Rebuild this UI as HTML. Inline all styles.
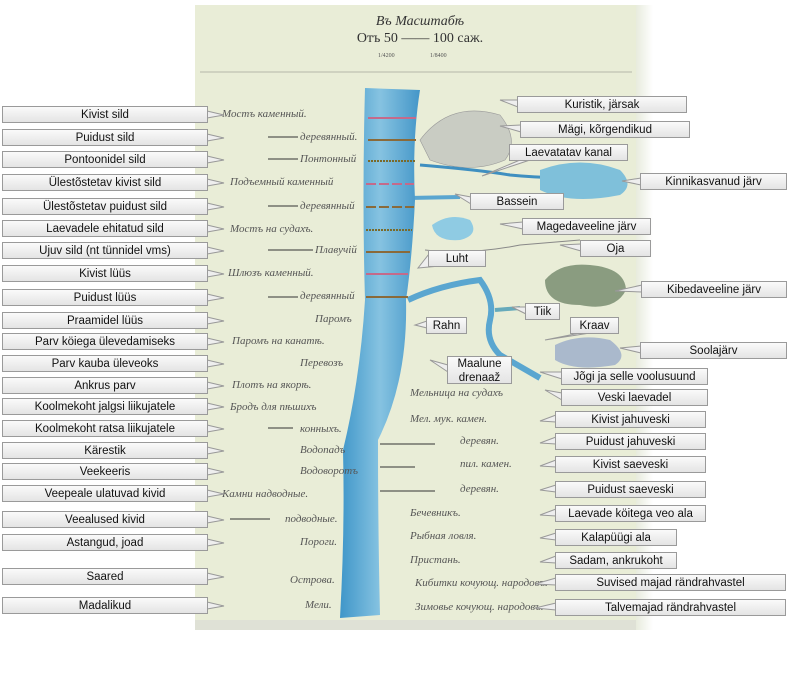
<!DOCTYPE html>
<html><head><meta charset="utf-8"><style>
body{margin:0;width:811px;height:681px;background:#fff;position:relative;overflow:hidden;font-family:"Liberation Sans",sans-serif}
.b{position:absolute;height:17px;line-height:17px;font-size:11.5px;text-align:center;color:#111;background:linear-gradient(#fafafa,#e4e4e4);border:1px solid #9a9a9a;box-sizing:border-box;white-space:nowrap}
svg{position:absolute;left:0;top:0}
.r{font-family:"Liberation Serif",serif;font-style:italic;fill:#555;font-size:11px}
</style></head><body>
<svg width="811" height="681">
<defs><linearGradient id="sh" x1="0" x2="1"><stop offset="0" stop-color="#e6eadb"/><stop offset="1" stop-color="#fff"/></linearGradient>
<linearGradient id="rv" x1="0" x2="1"><stop offset="0" stop-color="#3f96c9"/><stop offset=".5" stop-color="#86c3e1"/><stop offset="1" stop-color="#4496c8"/></linearGradient></defs>
<rect x="635" y="5" width="18" height="625" fill="url(#sh)"/>
<rect x="195" y="5" width="441" height="620" fill="#e9edd7"/>
<rect x="195" y="620" width="441" height="10" fill="#dfe1d6"/>
<line x1="200" y1="72" x2="632" y2="72" stroke="#b5b8a8"/>
<text x="420" y="25" text-anchor="middle" font-family="Liberation Serif" font-style="italic" font-size="14" fill="#333">Въ Масштабѣ</text>
<text x="420" y="42" text-anchor="middle" font-family="Liberation Serif" font-size="14" fill="#333">Отъ 50 —— 100 саж.</text>
<text x="378" y="57" font-size="6" fill="#555" font-family="Liberation Serif">1/4200</text><text x="430" y="57" font-size="6" fill="#555" font-family="Liberation Serif">1/8400</text>
<path d="M420 140 Q450 100 500 115 Q520 140 505 160 Q470 175 430 160Z" fill="#c9ccc3" stroke="#999" stroke-width=".6"/>
<path d="M420 165 Q480 170 510 175 Q560 180 600 175" stroke="#3f8fc0" stroke-width="3" fill="none"/>
<path d="M540 170 Q580 155 620 170 Q635 185 620 195 Q570 205 540 190Z" fill="#7fc0da"/>
<path d="M408 198 L460 197" stroke="#5aa6d0" stroke-width="4"/>
<path d="M432 225 Q450 212 470 220 Q480 235 460 240 Q435 242 432 225Z" fill="#8fcbe3"/>
<path d="M545 280 Q560 262 590 265 Q625 268 626 290 Q615 312 580 305 Q545 305 545 280Z" fill="#8a9c80"/>
<path d="M555 345 Q580 333 610 340 Q630 355 615 365 Q575 372 555 360Z" fill="#aab9cc"/>
<path d="M408 300 Q440 285 480 280 Q495 300 490 320 Q485 340 500 355 L540 378" stroke="#5aa6d0" stroke-width="6" fill="none"/>
<path d="M425 250 Q470 255 520 245 L580 240" stroke="#888" fill="none"/>
<path d="M495 310 L520 308" stroke="#6ab" stroke-width="4"/>
<path d="M365 88 L420 90 Q412 140 415 200 Q412 260 406 300 Q408 380 378 440 Q378 530 380 615 L340 618 Q345 530 343 450 Q360 380 365 300 Q362 200 365 88Z" fill="url(#rv)"/>
<g stroke-width="2" fill="none">
<path d="M368 118h48" stroke="#c56a8a"/><path d="M368 140h48" stroke="#8a6a3a"/><path d="M368 161h48" stroke="#7a6a2a" stroke-dasharray="2 1"/>
<path d="M366 184h48" stroke="#c56a8a" stroke-dasharray="10 3"/><path d="M366 207h48" stroke="#8a6a3a" stroke-dasharray="10 3"/>
<path d="M366 230h46" stroke="#7a6a2a" stroke-dasharray="2 1"/><path d="M366 252h44" stroke="#8a6a3a"/>
<path d="M366 274h42" stroke="#c56a8a"/><path d="M366 297h42" stroke="#8a6a3a"/></g>
<g class="r">
<text x="222" y="117">Мостъ каменный.</text><text x="300" y="140">деревянный.</text><text x="300" y="162">Понтонный</text>
<text x="230" y="185">Подъемный каменный</text><text x="300" y="209">деревянный</text><text x="230" y="232">Мостъ на судахъ.</text>
<text x="315" y="253">Плавучій</text><text x="228" y="276">Шлюзъ каменный.</text><text x="300" y="299">деревянный</text>
<text x="315" y="322">Паромъ</text><text x="232" y="344">Паромъ на канатѣ.</text><text x="300" y="366">Перевозъ</text>
<text x="232" y="388">Плотъ на якорѣ.</text><text x="230" y="410">Бродъ для пѣшихъ</text><text x="300" y="432">конныхъ.</text>
<text x="300" y="453">Водопадъ</text><text x="300" y="474">Водоворотъ</text><text x="222" y="497">Камни надводные.</text>
<text x="285" y="522">подводные.</text><text x="300" y="545">Пороги.</text><text x="290" y="583">Острова.</text><text x="305" y="608">Мели.</text>
<text x="410" y="396">Мельница на судахъ</text><text x="410" y="422">Мел. мук. камен.</text><text x="460" y="444">деревян.</text>
<text x="460" y="467">пил. камен.</text><text x="460" y="492">деревян.</text><text x="410" y="516">Бечевникъ.</text>
<text x="410" y="539">Рыбная ловля.</text><text x="410" y="563">Пристань.</text><text x="415" y="586">Кибитки кочующ. народовъ.</text><text x="415" y="610">Зимовье кочующ. народовъ.</text>
</g>
<g stroke="#333" stroke-width="1">
<path d="M268 137h30M268 159h30M268 206h30M268 250h45M268 297h30M268 428h25M380 444h55M380 467h35M380 491h55M230 519h40"/></g>
<g stroke="#999" fill="#eee" stroke-width="1">
<path d="M207 111L224 115L207 118M207 134L224 138L207 141M207 156L224 160L207 163M207 179L224 183L207 186M207 203L224 207L207 210M207 225L224 229L207 232M207 247L224 251L207 254M207 270L224 274L207 277M207 294L224 298L207 301M207 317L224 321L207 324M207 338L224 342L207 345M207 360L224 364L207 367M207 382L224 386L207 389M207 403L224 407L207 410M207 425L224 429L207 432M207 447L224 451L207 454M207 468L224 472L207 475M207 490L224 494L207 497M207 516L224 520L207 523M207 539L224 543L207 546M207 573L224 577L207 580M207 602L224 606L207 609"/>
<path d="M518 100L500 100L518 107M521 125L500 126L521 132M520 160L482 176L530 160M641 178L622 181L641 185M471 197L455 194L471 204M523 222L500 224L523 229M581 244L560 245L581 251M429 254L418 268L440 266M642 285L615 291L642 292M526 307L512 307L526 314M427 321L415 325L427 328M580 333L545 340L590 333M641 346L620 348L641 353M448 365L430 360L448 372M562 372L540 372L562 379M562 393L545 390L562 400M556 415L540 421L556 422M556 437L540 443L556 444M556 460L540 466L556 467M556 485L540 490L556 492M556 509L540 515L556 516M556 533L540 538L556 540M556 556L540 562L556 563M556 578L535 584L556 585M556 603L535 608L556 610"/></g>
</svg>
<div class="b" style="left:2px;top:106px;width:206px">Kivist sild</div>
<div class="b" style="left:2px;top:129px;width:206px">Puidust sild</div>
<div class="b" style="left:2px;top:151px;width:206px">Pontoonidel sild</div>
<div class="b" style="left:2px;top:174px;width:206px">Ülestõstetav kivist sild</div>
<div class="b" style="left:2px;top:198px;width:206px">Ülestõstetav puidust sild</div>
<div class="b" style="left:2px;top:220px;width:206px">Laevadele ehitatud sild</div>
<div class="b" style="left:2px;top:242px;width:206px">Ujuv sild  (nt tünnidel vms)</div>
<div class="b" style="left:2px;top:265px;width:206px">Kivist lüüs</div>
<div class="b" style="left:2px;top:289px;width:206px">Puidust lüüs</div>
<div class="b" style="left:2px;top:312px;width:206px">Praamidel lüüs</div>
<div class="b" style="left:2px;top:333px;width:206px">Parv köiega ülevedamiseks</div>
<div class="b" style="left:2px;top:355px;width:206px">Parv kauba üleveoks</div>
<div class="b" style="left:2px;top:377px;width:206px">Ankrus parv</div>
<div class="b" style="left:2px;top:398px;width:206px">Koolmekoht jalgsi liikujatele</div>
<div class="b" style="left:2px;top:420px;width:206px">Koolmekoht ratsa liikujatele</div>
<div class="b" style="left:2px;top:442px;width:206px">Kärestik</div>
<div class="b" style="left:2px;top:463px;width:206px">Veekeeris</div>
<div class="b" style="left:2px;top:485px;width:206px">Veepeale ulatuvad kivid</div>
<div class="b" style="left:2px;top:511px;width:206px">Veealused kivid</div>
<div class="b" style="left:2px;top:534px;width:206px">Astangud, joad</div>
<div class="b" style="left:2px;top:568px;width:206px">Saared</div>
<div class="b" style="left:2px;top:597px;width:206px">Madalikud</div>
<div class="b" style="left:517px;top:96px;width:170px">Kuristik, järsak</div>
<div class="b" style="left:520px;top:121px;width:170px">Mägi, kõrgendikud</div>
<div class="b" style="left:509px;top:144px;width:119px">Laevatatav kanal</div>
<div class="b" style="left:640px;top:173px;width:147px">Kinnikasvanud järv</div>
<div class="b" style="left:470px;top:193px;width:94px">Bassein</div>
<div class="b" style="left:522px;top:218px;width:129px">Magedaveeline järv</div>
<div class="b" style="left:580px;top:240px;width:71px">Oja</div>
<div class="b" style="left:428px;top:250px;width:58px">Luht</div>
<div class="b" style="left:641px;top:281px;width:146px">Kibedaveeline järv</div>
<div class="b" style="left:525px;top:303px;width:35px">Tiik</div>
<div class="b" style="left:426px;top:317px;width:41px">Rahn</div>
<div class="b" style="left:570px;top:317px;width:49px">Kraav</div>
<div class="b" style="left:640px;top:342px;width:147px">Soolajärv</div>
<div class="b" style="left:447px;top:356px;width:65px;height:28px;line-height:14px">Maalune<br>drenaaž</div>
<div class="b" style="left:561px;top:368px;width:147px">Jõgi ja selle voolusuund</div>
<div class="b" style="left:561px;top:389px;width:147px">Veski laevadel</div>
<div class="b" style="left:555px;top:411px;width:151px">Kivist jahuveski</div>
<div class="b" style="left:555px;top:433px;width:151px">Puidust jahuveski</div>
<div class="b" style="left:555px;top:456px;width:151px">Kivist saeveski</div>
<div class="b" style="left:555px;top:481px;width:151px">Puidust saeveski</div>
<div class="b" style="left:555px;top:505px;width:151px">Laevade köitega veo ala</div>
<div class="b" style="left:555px;top:529px;width:122px">Kalapüügi ala</div>
<div class="b" style="left:555px;top:552px;width:122px">Sadam, ankrukoht</div>
<div class="b" style="left:555px;top:574px;width:231px">Suvised majad rändrahvastel</div>
<div class="b" style="left:555px;top:599px;width:231px">Talvemajad rändrahvastel</div>
</body></html>
